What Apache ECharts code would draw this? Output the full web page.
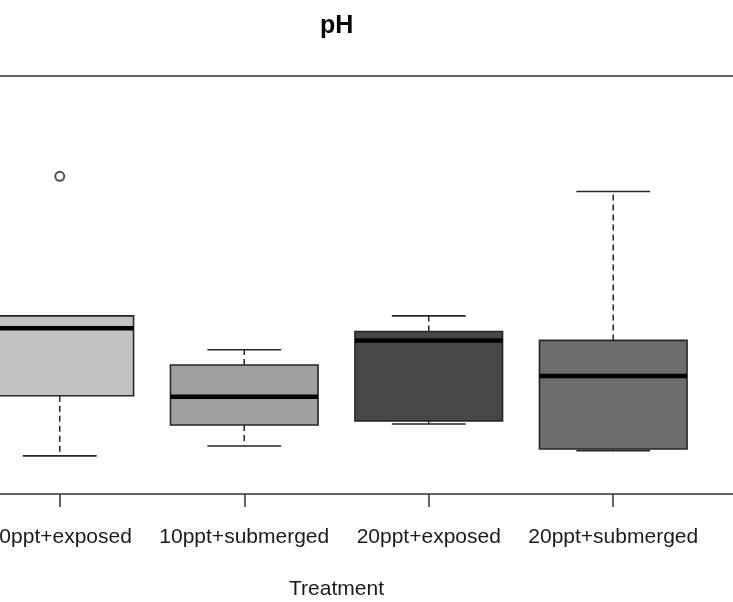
<!DOCTYPE html>
<html>
<head>
<meta charset="utf-8">
<script src="https://cdn.jsdelivr.net/npm/echarts@6/dist/echarts.min.js"></script>
<style>
  html, body { margin: 0; padding: 0; background: #ffffff; }
  #chart { width: 733px; height: 602px; }
</style>
</head>
<body>
<div id="chart"></div>
<script>
// pH by treatment: five-number summaries (whisker ends, quartiles, median)
const treatments  = ['10ppt+exposed', '10ppt+submerged', '20ppt+exposed', '20ppt+submerged'];
const whiskerLow  = [7.673, 7.692, 7.734, 7.683];
const quartile1   = [7.788, 7.732, 7.740, 7.686];
const medians     = [7.917, 7.786, 7.894, 7.826];
const quartile3   = [7.941, 7.847, 7.911, 7.894];
const whiskerHigh = [7.941, 7.876, 7.941, 8.179];
// points beyond the whiskers: [treatment position, pH]
const outlierPos  = [1];
const outlierVals = [8.208];

const boxFills = ['#c2c2c2', '#a0a0a0', '#474747', '#6d6d6d'];
const ink = '#262626';
const font = '"Liberation Sans", Arial, sans-serif';

const positions = treatments.map((_, k) => k + 1);
const boxData = positions.map((p, k) =>
  [p, whiskerLow[k], quartile1[k], medians[k], quartile3[k], whiskerHigh[k]]);
const outlierData = outlierPos.map((p, k) => [p, outlierVals[k]]);

function renderBox(params, api) {
  const pos = api.value(0);
  const x = api.coord([pos, api.value(3)])[0];
  const yLo = api.coord([pos, api.value(1)])[1];
  const yQ1 = api.coord([pos, api.value(2)])[1];
  const yMed = api.coord([pos, api.value(3)])[1];
  const yQ3 = api.coord([pos, api.value(4)])[1];
  const yHi = api.coord([pos, api.value(5)])[1];
  const w = api.size([0.8, 0])[0];
  const cap = w / 4;
  const fill = boxFills[params.dataIndex];
  const dash = { stroke: ink, lineWidth: 1.5, lineDash: [6, 4] };
  const solid = { stroke: ink, lineWidth: 1.6 };
  return {
    type: 'group',
    children: [
      { type: 'line', shape: { x1: x, y1: yQ3, x2: x, y2: yHi }, style: dash },
      { type: 'line', shape: { x1: x, y1: yQ1, x2: x, y2: yLo }, style: dash },
      { type: 'line', shape: { x1: x - cap, y1: yHi, x2: x + cap, y2: yHi }, style: solid },
      { type: 'line', shape: { x1: x - cap, y1: yLo, x2: x + cap, y2: yLo }, style: solid },
      { type: 'rect', shape: { x: x - w / 2, y: yQ3, width: w, height: yQ1 - yQ3 },
        style: { fill: fill, stroke: ink, lineWidth: 1.6 } },
      { type: 'line', shape: { x1: x - w / 2, y1: yMed, x2: x + w / 2, y2: yMed },
        style: { stroke: '#000000', lineWidth: 4.5 } }
    ]
  };
}

const chart = echarts.init(document.getElementById('chart'), null, { renderer: 'canvas' });
chart.setOption({
  animation: false,
  backgroundColor: '#ffffff',
  graphic: [{
    type: 'text', left: 320, top: 14,
    style: { text: 'pH', font: 'bold 25px ' + font, fill: '#000000' }
  }],
  grid: {
    show: true, left: -62, right: -2, top: 76, bottom: 108,
    borderColor: '#333333', borderWidth: 1.5,
    containLabel: false, outerBoundsMode: 'none'
  },
  xAxis: {
    type: 'value', min: 0.34, max: 4.66,
    axisLine: { show: false },
    splitLine: { show: false },
    axisTick: { show: true, customValues: positions, length: 13,
      lineStyle: { color: '#333333', width: 1.5 } },
    axisLabel: { show: true, customValues: positions, margin: 33,
      formatter: v => treatments[Math.round(v) - 1],
      fontSize: 21, fontFamily: font, color: '#1a1a1a' },
    name: 'Treatment', nameLocation: 'middle', nameGap: 85,
    nameTextStyle: { fontSize: 21, fontFamily: font, color: '#1a1a1a' }
  },
  yAxis: {
    type: 'value', min: 7.6, max: 8.4, show: false
  },
  series: [
    {
      type: 'custom', renderItem: renderBox, data: boxData,
      encode: { x: 0, y: [1, 2, 3, 4, 5] }, clip: false
    },
    {
      type: 'scatter', data: outlierData, symbol: 'emptyCircle', symbolSize: 9,
      itemStyle: { color: ink, borderColor: ink, borderWidth: 1.3 }
    }
  ]
});
</script>
</body>
</html>
